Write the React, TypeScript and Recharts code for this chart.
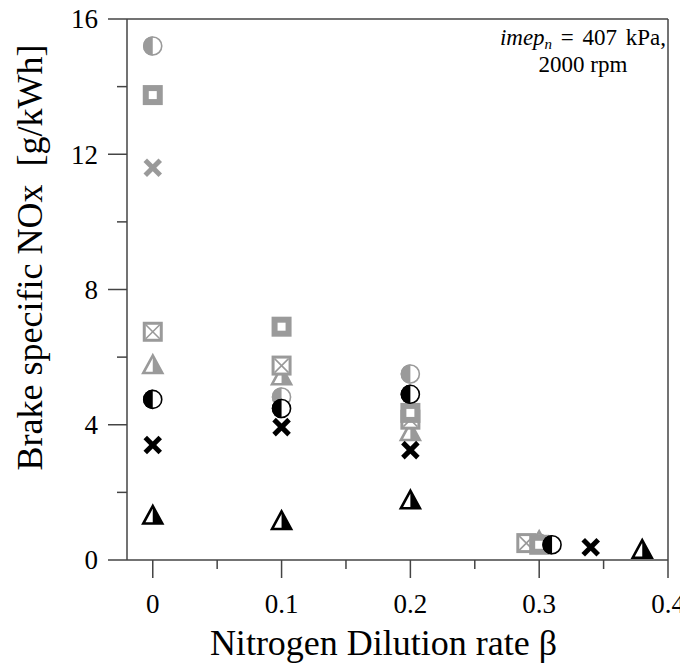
import React from 'react';
import { ScatterChart, Scatter, XAxis, YAxis, ReferenceLine } from 'recharts';

const GRAY = '#9a9a9a';
const BLACK = '#000000';
const AXIS = '#444444';
const FONT = '"Liberation Serif", "Times New Roman", serif';

// axis ticks
const xMajorTicks = [0, 0.1, 0.2, 0.3, 0.4];
const xMinorTicks = [0.05, 0.15, 0.25, 0.35];
const yMajorTicks = [0, 4, 8, 12, 16];
const yMinorTicks = [2, 6, 10, 14];

// gray series
const grayHalfCircleX = [0, 0.1, 0.2, 0.3];
const grayHalfCircleY = [15.2, 4.82, 5.5, 0.5];
const graySquareX = [0, 0.1, 0.2, 0.3];
const graySquareY = [13.75, 6.9, 4.35, 0.45];
const grayCrossX = [0];
const grayCrossY = [11.6];
const grayBoxCrossX = [0, 0.1, 0.2, 0.29];
const grayBoxCrossY = [6.75, 5.75, 4.15, 0.5];
const grayTriangleX = [0, 0.1, 0.2, 0.3];
const grayTriangleY = [5.78, 5.45, 3.8, 0.58];

// black series
const blackHalfCircleX = [0, 0.1, 0.2, 0.31];
const blackHalfCircleY = [4.75, 4.48, 4.9, 0.45];
const blackCrossX = [0, 0.1, 0.2, 0.34];
const blackCrossY = [3.4, 3.93, 3.25, 0.38];
const blackTriangleX = [0, 0.1, 0.2, 0.38];
const blackTriangleY = [1.33, 1.17, 1.78, 0.32];

const zip = (xs: number[], ys: number[]) => xs.map((x, i) => ({ x, y: ys[i] }));

const HalfCircle = ({ cx, cy, color }: any) => (
  <g>
    <circle cx={cx} cy={cy} r={9} fill="#fff" stroke={color} strokeWidth={1.6} />
    <path d={`M${cx},${cy - 9.8} A9.8,9.8 0 0,0 ${cx},${cy + 9.8} Z`} fill={color} />
  </g>
);

const HollowSquare = ({ cx, cy, color }: any) => (
  <rect x={cx - 7} y={cy - 7} width={14} height={14} fill="#fff" stroke={color} strokeWidth={6} />
);

const Cross = ({ cx, cy, color }: any) => (
  <g stroke={color} strokeWidth={5}>
    <line x1={cx - 7.5} y1={cy - 7.5} x2={cx + 7.5} y2={cy + 7.5} />
    <line x1={cx - 7.5} y1={cy + 7.5} x2={cx + 7.5} y2={cy - 7.5} />
  </g>
);

const BoxCross = ({ cx, cy, color }: any) => (
  <g stroke={color}>
    <rect x={cx - 8.5} y={cy - 8.5} width={17} height={17} fill="#fff" strokeWidth={3} />
    <line x1={cx - 7} y1={cy - 7} x2={cx + 7} y2={cy + 7} strokeWidth={1.6} />
    <line x1={cx - 7} y1={cy + 7} x2={cx + 7} y2={cy - 7} strokeWidth={1.6} />
  </g>
);

const HalfTriangle = ({ cx, cy, color }: any) => (
  <g>
    <polygon
      points={`${cx},${cy - 9} ${cx - 9.5},${cy + 8.5} ${cx + 9.5},${cy + 8.5}`}
      fill="#fff"
      stroke={color}
      strokeWidth={2.6}
    />
    <polygon points={`${cx},${cy - 9} ${cx + 9.5},${cy + 8.5} ${cx},${cy + 8.5}`} fill={color} />
  </g>
);

const YTick = ({ x, y, payload }: any) => {
  const major = yMajorTicks.includes(payload.value);
  return (
    <g>
      <line x1={x} x2={x - (major ? 19 : 10)} y1={y} y2={y} stroke={AXIS} strokeWidth={1.5} />
      {major && (
        <text x={x - 29} y={y} dy="0.35em" textAnchor="end" fontSize={27} fontFamily={FONT} fill="#000">
          {payload.value}
        </text>
      )}
    </g>
  );
};

const XTick = ({ x, y, payload }: any) => {
  const major = xMajorTicks.includes(payload.value);
  return (
    <g>
      <line x1={x} x2={x} y1={y} y2={y + (major ? 18 : 9)} stroke={AXIS} strokeWidth={1.5} />
      {major && (
        <text x={x} y={y + 53} textAnchor="middle" fontSize={27} fontFamily={FONT} fill="#000">
          {String(payload.value)}
        </text>
      )}
    </g>
  );
};

const YTitle = ({ viewBox }: any) => {
  const tx = viewBox.x + 34;
  const ty = viewBox.y + viewBox.height / 2 - 32;
  return (
    <text
      x={tx}
      y={ty}
      transform={`rotate(-90 ${tx} ${ty})`}
      textAnchor="middle"
      fontSize={36}
      fontFamily={FONT}
      fill="#000"
      style={{ whiteSpace: 'pre' }}
    >
      {'Brake specific NOx  [g/kWh]'}
    </text>
  );
};

const XTitle = ({ viewBox }: any) => {
  const tx = viewBox.x + viewBox.width / 2 - 14;
  const ty = viewBox.y + 95;
  return (
    <text x={tx} y={ty} textAnchor="middle" fontSize={36} fontFamily={FONT} fill="#000">
      Nitrogen Dilution rate β
    </text>
  );
};

export default function App() {
  // later series sit on top
  const series = [
    { name: 'gray half circle', data: zip(grayHalfCircleX, grayHalfCircleY), Shape: HalfCircle, color: GRAY },
    { name: 'gray cross', data: zip(grayCrossX, grayCrossY), Shape: Cross, color: GRAY },
    { name: 'gray triangle', data: zip(grayTriangleX, grayTriangleY), Shape: HalfTriangle, color: GRAY },
    { name: 'gray boxed cross', data: zip(grayBoxCrossX, grayBoxCrossY), Shape: BoxCross, color: GRAY },
    { name: 'gray square', data: zip(graySquareX, graySquareY), Shape: HollowSquare, color: GRAY },
    { name: 'black half circle', data: zip(blackHalfCircleX, blackHalfCircleY), Shape: HalfCircle, color: BLACK },
    { name: 'black cross', data: zip(blackCrossX, blackCrossY), Shape: Cross, color: BLACK },
    { name: 'black triangle', data: zip(blackTriangleX, blackTriangleY), Shape: HalfTriangle, color: BLACK },
  ];

  return (
    <div style={{ position: 'relative', width: 680, height: 657, fontFamily: FONT }}>
      <style>{'.recharts-surface { overflow: visible; }'}</style>
      <ScatterChart width={680} height={657} margin={{ top: 11, right: 20, bottom: 0, left: 0 }}>
        <XAxis
          type="number"
          dataKey="x"
          domain={[-0.02, 0.4]}
          ticks={[...xMajorTicks, ...xMinorTicks].sort((a, b) => a - b)}
          allowDataOverflow
          height={105}
          tickSize={0}
          tickMargin={0}
          tickLine={false}
          axisLine={{ stroke: AXIS, strokeWidth: 1.5 }}
          tick={<XTick />}
          interval={0}
          label={<XTitle />}
        />
        <YAxis
          type="number"
          dataKey="y"
          domain={[0, 16]}
          ticks={[...yMajorTicks, ...yMinorTicks].sort((a, b) => a - b)}
          allowDataOverflow
          width={119}
          tickSize={0}
          tickMargin={0}
          tickLine={false}
          axisLine={{ stroke: AXIS, strokeWidth: 1.5 }}
          tick={<YTick />}
          interval={0}
          label={<YTitle />}
        />
        <ReferenceLine y={16} stroke={AXIS} strokeWidth={1.5} />
        <ReferenceLine x={0.4} stroke={AXIS} strokeWidth={1.5} />
        {series.map(({ name, data, Shape, color }) => (
          <Scatter
            key={name}
            name={name}
            data={data}
            isAnimationActive={false}
            shape={(p: any) => <Shape cx={p.cx} cy={p.cy} color={color} />}
          />
        ))}
      </ScatterChart>
      <div
        style={{
          position: 'absolute',
          left: 475,
          top: 16,
          width: 200,
          textAlign: 'center',
          fontSize: 23,
          lineHeight: '27px',
          color: '#000',
        }}
      >
        <span style={{ wordSpacing: 3 }}>
          <i>imep</i>
          <sub style={{ fontSize: 15, lineHeight: 0, verticalAlign: '-4px', fontStyle: 'italic' }}>n</sub> = 407 kPa,
        </span>
        <br />
        2000 rpm
      </div>
    </div>
  );
}
